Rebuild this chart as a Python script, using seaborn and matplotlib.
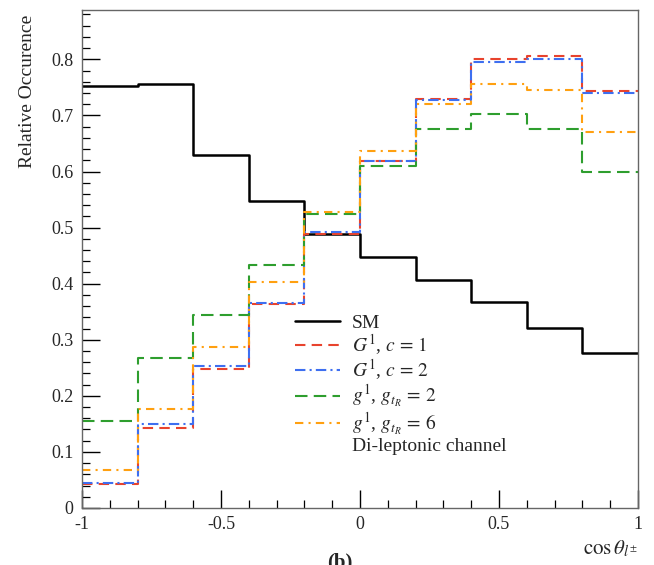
import numpy as np
import pandas as pd
import matplotlib
matplotlib.use("Agg")
import matplotlib.pyplot as plt
from matplotlib.lines import Line2D
from matplotlib.ticker import MultipleLocator, FixedLocator
import seaborn as sns

edges = np.linspace(-1, 1, 11)
centers = 0.5 * (edges[:-1] + edges[1:])

sm = [0.753, 0.756, 0.629, 0.548, 0.489, 0.447, 0.406, 0.367, 0.321, 0.276]
G1_c1 = [0.043, 0.143, 0.248, 0.363, 0.489, 0.619, 0.730, 0.800, 0.806, 0.744]
G1_c2 = [0.045, 0.149, 0.253, 0.366, 0.493, 0.618, 0.727, 0.796, 0.800, 0.740]
g1_g2 = [0.156, 0.268, 0.345, 0.433, 0.524, 0.610, 0.675, 0.702, 0.675, 0.599]
g1_g6 = [0.067, 0.176, 0.287, 0.403, 0.527, 0.636, 0.720, 0.756, 0.745, 0.670]

labels = ["SM", r"$G^1$, $c\,=\,1$", r"$G^1$, $c\,=\,2$",
          r"$g^1$, $g_{t_R}\,=\,2$", r"$g^1$, $g_{t_R}\,=\,6$"]
extra_label = "Di-leptonic channel"
ylabel = "Relative Occurence"
xlabel = r"$\cos\theta_{l^{\pm}}$"
panel = "(b)"

sns.set_style("white")
plt.rcParams["font.family"] = ["Liberation Serif", "DejaVu Serif"]
plt.rcParams["mathtext.fontset"] = "stix"
plt.rcParams["axes.unicode_minus"] = False

fig = plt.figure(figsize=(6.54, 5.65), dpi=100)
ax = fig.add_axes([0.1254, 0.1009, 0.8501, 0.8814])

styles = [
    dict(color="black", linestyle="-", linewidth=1.8),
    dict(color="#e8432d", linestyle=(0, (5, 3)), linewidth=1.5),
    dict(color="#3e6ff0", linestyle=(0, (5, 2, 1, 2)), linewidth=1.5),
    dict(color="#2e9e2e", linestyle=(0, (6, 3)), linewidth=1.5),
    dict(color="#ffa010", linestyle=(0, (4, 2.5, 1, 2.5)), linewidth=1.5),
]
series = [sm, G1_c1, G1_c2, g1_g2, g1_g6]

for vals, st in zip(series, styles):
    df = pd.DataFrame({"x": centers, "w": vals})
    sns.histplot(data=df, x="x", weights="w", binwidth=0.2, binrange=(-1, 1),
                 element="step", fill=False, ax=ax, **st)

ax.set_xlim(-1, 1)
ax.set_ylim(0, 0.888)

ax.xaxis.set_major_locator(FixedLocator([-1, -0.5, 0, 0.5, 1]))
ax.set_xticklabels(["-1", "-0.5", "0", "0.5", "1"])
ax.xaxis.set_minor_locator(MultipleLocator(0.1))
ax.set_yticks(np.arange(0, 0.81, 0.1))
ax.set_yticklabels(["0", "0.1", "0.2", "0.3", "0.4", "0.5", "0.6", "0.7", "0.8"])
ax.yaxis.set_minor_locator(MultipleLocator(0.02))

ax.tick_params(which="both", direction="in", top=False, right=False,
               bottom=True, left=True,
               labelsize=13, color="black", pad=6)
ax.tick_params(which="major", length=13, width=1.0)
ax.tick_params(which="minor", length=5.5, width=0.9)

for s in ax.spines.values():
    s.set_color("#666666")
    s.set_linewidth(1.0)

ax.set_ylabel(ylabel, fontsize=14, loc="top")
ax.yaxis.set_label_coords(-0.082, 0.99)
ax.set_xlabel(xlabel, fontsize=15, loc="right")
ax.xaxis.set_label_coords(1.0, -0.062)

handles = [Line2D([], [], **st) for st in styles]
handles.append(Line2D([], [], color="none"))
ax.legend(handles, labels + [extra_label], loc="upper left",
          bbox_to_anchor=(0.37, 0.405), frameon=False, fontsize=14,
          handlelength=2.3, handletextpad=0.6, labelspacing=0.03,
          borderaxespad=0)

fig.text(0.52, 0.022, panel, fontsize=15, fontweight="bold",
         ha="center", va="top")

fig.savefig("out.png", dpi=100)
